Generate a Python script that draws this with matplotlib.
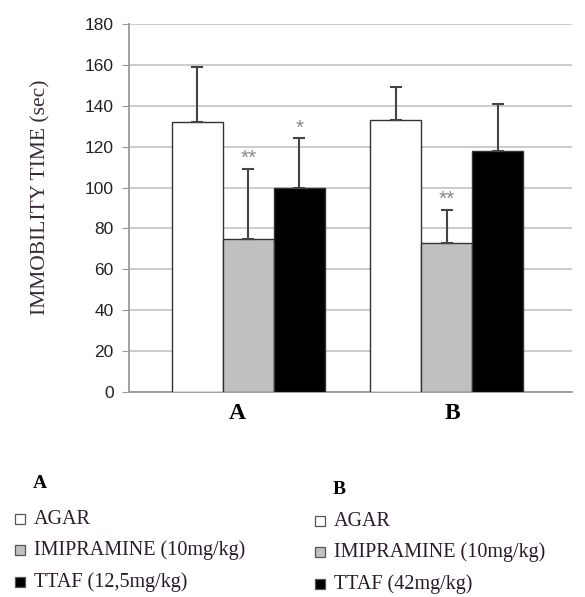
import matplotlib
matplotlib.use("Agg")
import matplotlib.pyplot as plt
import matplotlib.transforms as mtransforms
from matplotlib.patches import Rectangle
import numpy as np

# ---- data ----
groups = ["A", "B"]
treatments = ["AGAR", "IMIPRAMINE", "TTAF"]
means = {
    "AGAR":       [132, 133],
    "IMIPRAMINE": [75, 73],
    "TTAF":       [100, 118],
}
errors = {
    "AGAR":       [27, 16],
    "IMIPRAMINE": [34, 16],
    "TTAF":       [24, 23],
}
stars = {
    "AGAR":       ["", ""],
    "IMIPRAMINE": ["**", "**"],
    "TTAF":       ["*", ""],
}
colors = {"AGAR": "white", "IMIPRAMINE": "#c0c0c0", "TTAF": "black"}
yticks = [0, 20, 40, 60, 80, 100, 120, 140, 160, 180]
legend_a = ["AGAR", "IMIPRAMINE (10mg/kg)", "TTAF (12,5mg/kg)"]
legend_b = ["AGAR", "IMIPRAMINE (10mg/kg)", "TTAF (42mg/kg)"]

W, H = 585, 597
fig = plt.figure(figsize=(W / 100, H / 100), dpi=100)
# axes box in pixels: left 129, right 572, top 24, bottom 392
ax = fig.add_axes([129 / W, 1 - 392 / H, (572 - 129) / W, (392 - 24) / H])

serif = ["Liberation Serif", "DejaVu Serif"]
sans = ["Liberation Sans", "DejaVu Sans"]

x = np.arange(len(groups))
bw = 0.257
for i, t in enumerate(treatments):
    xs = x + (i - 1) * bw
    ax.bar(xs, means[t], width=bw, color=colors[t], edgecolor="#333333",
           linewidth=1.0, zorder=3)
    ax.errorbar(xs, means[t], yerr=[np.zeros(len(groups)), errors[t]],
                fmt="none", ecolor="#444444", elinewidth=1.5, capsize=4.5,
                capthick=1.5, zorder=4)
    for xi, m, e, s in zip(xs, means[t], errors[t], stars[t]):
        if s:
            ax.text(xi, m + e + 0.5, s, ha="center", va="bottom",
                    color="#8a8a8a", fontsize=15, family=sans, zorder=5)

ax.set_xlim(-0.602, 1.63)
ax.set_ylim(0, 180)
ax.set_yticks(yticks)
ax.yaxis.grid(True, color="#c8c8c8", linewidth=1.3, zorder=0)
ax.set_axisbelow(True)
for sp in ["top", "right"]:
    ax.spines[sp].set_visible(False)
ax.spines["left"].set_color("#999999")
ax.spines["bottom"].set_color("#999999")
ax.spines["left"].set_linewidth(1.3)
ax.spines["bottom"].set_linewidth(1.3)
ax.tick_params(axis="y", direction="out", length=5, color="#999999",
               labelsize=12.5, pad=6, labelcolor="#222222")
for lab in ax.get_yticklabels():
    lab.set_family(sans)
ax.set_xticks(x)
ax.set_xticklabels(groups, family=serif, fontsize=17, fontweight="bold")
ax.tick_params(axis="x", length=0, pad=8)
# nudge the category labels to where the reference has them
for lab, dx in zip(ax.get_xticklabels(), [-11, 5]):
    lab.set_transform(lab.get_transform() +
                      mtransforms.ScaledTranslation(dx / 100, 0, fig.dpi_scale_trans))
ax.set_ylabel("IMMOBILITY TIME (sec)", family=serif, fontsize=15.5,
              color="#3a2a3a")
ax.yaxis.set_label_coords(-0.178, 0.53)

# ---- legend block below the chart (pixel coordinates) ----
def fx(px):
    return px / W

def fy(py):
    return 1 - py / H

fig.text(fx(33), fy(483), "A", family=serif, fontsize=14, fontweight="bold",
         va="center")
fig.text(fx(333), fy(489), "B", family=serif, fontsize=14, fontweight="bold",
         va="center")
for col_x, labels, rows in [(15, legend_a, [519, 550, 582]),
                            (315, legend_b, [521, 552, 584])]:
    for t, lab, ry in zip(treatments, labels, rows):
        sz = 10
        fig.patches.append(Rectangle((fx(col_x), fy(ry + sz / 2)), sz / W, sz / H,
                                     transform=fig.transFigure,
                                     facecolor=colors[t], edgecolor="#555555",
                                     linewidth=0.9))
        fig.text(fx(col_x + 19), fy(ry), lab, family=serif, fontsize=14.5,
                 va="center", color="#2a1a2a")

fig.savefig("out.png", dpi=100)
